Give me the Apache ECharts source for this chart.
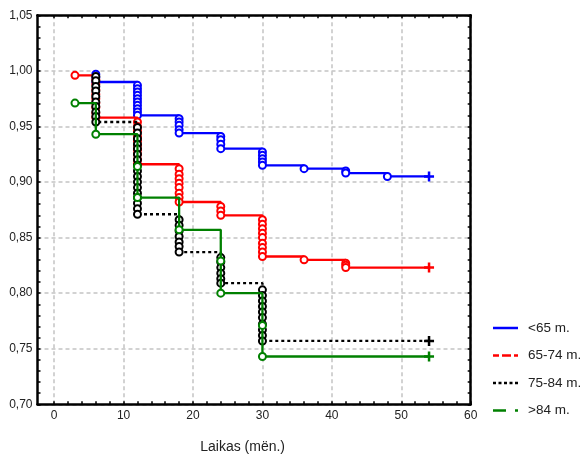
<!DOCTYPE html>
<html>
<head>
<meta charset="utf-8">
<script src="https://cdn.jsdelivr.net/npm/echarts@6/dist/echarts.min.js"></script>
<style>html,body{margin:0;padding:0;background:#fff}#c{width:586px;height:454px}</style>
</head>
<body>
<div id="c"></div>
<script>
// ---- data (time in months, survival proportion) ----
const groupNames = ['<65 m.', '65-74 m.', '75-84 m.', '>84 m.'];

const eventsUnder65 = [
  [6,0.997],[6,0.994],[6,0.990],
  [12,0.987],[12,0.984],[12,0.981],[12,0.978],[12,0.975],[12,0.972],[12,0.969],[12,0.966],[12,0.963],[12,0.960],
  [18,0.957],[18,0.954],[18,0.951],[18,0.947],[18,0.944],
  [24,0.941],[24,0.938],[24,0.934],[24,0.930],
  [30,0.927],[30,0.924],[30,0.921],[30,0.918],[30,0.915],
  [36,0.912],
  [42,0.910],[42,0.908],
  [48,0.905]
];
const events65to74 = [
  [3,0.996],
  [6,0.992],[6,0.988],[6,0.983],[6,0.979],[6,0.975],[6,0.971],[6,0.967],[6,0.962],[6,0.958],
  [12,0.954],[12,0.950],[12,0.946],[12,0.941],[12,0.937],[12,0.933],[12,0.929],[12,0.925],[12,0.920],[12,0.916],
  [18,0.912],[18,0.907],[18,0.903],[18,0.899],[18,0.895],[18,0.890],[18,0.886],[18,0.882],
  [24,0.878],[24,0.874],[24,0.870],
  [30,0.866],[30,0.862],[30,0.858],[30,0.854],[30,0.850],[30,0.845],[30,0.841],[30,0.837],[30,0.833],
  [36,0.830],
  [42,0.827],[42,0.825],[42,0.823]
];
const events75to84 = [
  [6,0.995],[6,0.991],[6,0.986],[6,0.982],[6,0.977],[6,0.972],[6,0.968],[6,0.963],[6,0.959],[6,0.954],
  [12,0.949],[12,0.944],[12,0.939],[12,0.934],[12,0.930],[12,0.925],[12,0.920],[12,0.915],[12,0.910],
  [12,0.905],[12,0.900],[12,0.895],[12,0.890],[12,0.886],[12,0.881],[12,0.876],[12,0.871],
  [18,0.866],[18,0.861],[18,0.856],[18,0.851],[18,0.846],[18,0.842],[18,0.837],
  [24,0.832],[24,0.828],[24,0.823],[24,0.818],[24,0.813],[24,0.809],
  [30,0.803],[30,0.798],[30,0.793],[30,0.788],[30,0.783],[30,0.778],[30,0.772],[30,0.767],[30,0.762],[30,0.757]
];
const eventsOver84 = [
  [3,0.971],
  [6,0.943],
  [12,0.914],[12,0.886],
  [18,0.857],
  [24,0.829],[24,0.800],
  [30,0.771],[30,0.743]
];
const censorTime = 54;
const censorValues = [0.905, 0.823, 0.757, 0.743];

const xLabelValues = [0, 10, 20, 30, 40, 50, 60];
const xTickValues = [0,2,4,6,8,10,12,14,16,18,20,22,24,26,28,30,32,34,36,38,40,42,44,46,48,50,52,54,56,58,60];
const xMin = -2.4, xMax = 60;
const yMin = 0.70, yMax = 1.05, yStep = 0.05;
const xTitle = 'Laikas (mën.)';

// ---- styling ----
const colors = ['#0000ff', '#ff0000', '#000000', '#008000'];
const lineTypes = ['solid', 'solid', [3, 3], 'solid'];
const legendIcons = [
  'path://M0,0h25v2.5h-25z',
  'path://M0,0h6v2.5h-6zM9,0h9v2.5h-9zM21,0h4v2.5h-4z',
  'path://M0,0h3v2.5h-3zM5.5,0h3v2.5h-3zM11,0h3v2.5h-3zM16.5,0h3v2.5h-3zM22,0h3v2.5h-3z',
  'path://M0,0h13v2.5h-13zM22,0h3v2.5h-3z'
];
const plusPath = 'path://M3,0H5V3H8V5H5V8H3V5H0V3H3Z';
const font = 'Liberation Sans, Arial, sans-serif';
const allEvents = [eventsUnder65, events65to74, events75to84, eventsOver84];

function buildData(events, endValue, color) {
  const pts = events.map(p => ({ value: p }));
  pts.push({ value: [censorTime, endValue], symbol: plusPath, symbolSize: 10,
             itemStyle: { color: color, borderWidth: 0 } });
  return pts;
}

const series = allEvents.map((ev, i) => ({
  type: 'line',
  name: groupNames[i],
  step: 'end',
  xAxisIndex: 0,
  yAxisIndex: 0,
  data: buildData(ev, censorValues[i], colors[i]),
  symbol: 'circle',
  symbolSize: 7,
  showAllSymbol: true,
  lineStyle: { color: colors[i], width: 2.3, type: lineTypes[i] },
  itemStyle: { color: '#fff', borderColor: colors[i], borderWidth: 2 },
  emphasis: { disabled: true },
  z: 3 + i,
  animation: false
}));

const frameLine = { show: true, onZero: false, lineStyle: { color: '#000', width: 2.5 } };
const gridLine = { show: true, lineStyle: { color: '#c4c4c4', width: 1.5, type: [4, 3] } };

const chart = echarts.init(document.getElementById('c'), null, { renderer: 'canvas' });
chart.setOption({
  backgroundColor: '#fff',
  animation: false,
  grid: { left: 37.5, right: 115.3, top: 15.3, bottom: 49.7, containLabel: false, outerBoundsMode: 'none' },
  xAxis: [
    {
      type: 'value', min: xMin, max: xMax, position: 'bottom',
      axisLine: frameLine,
      axisTick: { show: true, inside: true, length: 3, customValues: xTickValues, lineStyle: { color: '#000', width: 1.5 } },
      axisLabel: { show: true, customValues: xLabelValues, margin: 5, fontSize: 12, color: '#222', fontFamily: font },
      splitLine: { show: false },
      name: xTitle, nameLocation: 'middle', nameGap: 36,
      nameTextStyle: { fontSize: 14, color: '#222', fontFamily: font, padding: [0, 23, 0, 0] }
    },
    {
      type: 'value', min: xMin, max: xMax, position: 'top',
      axisLine: frameLine,
      axisTick: { show: true, inside: true, length: 3, customValues: xTickValues, lineStyle: { color: '#000', width: 1.5 } },
      axisLabel: { show: false },
      splitLine: { show: false }
    },
    {
      type: 'value', min: xMin, max: xMax, position: 'bottom',
      axisLine: { show: false },
      axisTick: { show: false, customValues: xLabelValues },
      axisLabel: { show: false, customValues: xLabelValues },
      splitLine: gridLine
    }
  ],
  yAxis: [
    {
      type: 'value', min: yMin, max: yMax, interval: yStep, position: 'left',
      axisLine: frameLine,
      axisTick: { show: true, inside: true, length: 3, lineStyle: { color: '#000', width: 1.5 } },
      minorTick: { show: true, splitNumber: 5, length: 3, lineStyle: { color: '#000', width: 1.5 } },
      axisLabel: { margin: 5, fontSize: 12, color: '#222', fontFamily: font,
                   formatter: v => v.toFixed(2).replace('.', ',') },
      splitLine: gridLine
    },
    {
      type: 'value', min: yMin, max: yMax, interval: yStep, position: 'right',
      axisLine: frameLine,
      axisTick: { show: true, inside: true, length: 3, lineStyle: { color: '#000', width: 1.5 } },
      minorTick: { show: true, splitNumber: 5, length: 3, lineStyle: { color: '#000', width: 1.5 } },
      axisLabel: { show: false },
      splitLine: { show: false }
    }
  ],
  legend: {
    orient: 'vertical', left: 493, top: 321, padding: 0,
    itemWidth: 25, itemHeight: 14, itemGap: 13.5,
    selectedMode: false,
    itemStyle: { borderWidth: 0 },
    textStyle: { fontSize: 13.5, color: '#222', fontFamily: font, lineHeight: 14, padding: [0, 0, 0, 5] },
    data: groupNames.map((n, i) => ({ name: n, icon: legendIcons[i], itemStyle: { color: colors[i], borderWidth: 0 } }))
  },
  series: series
});
</script>
</body>
</html>
